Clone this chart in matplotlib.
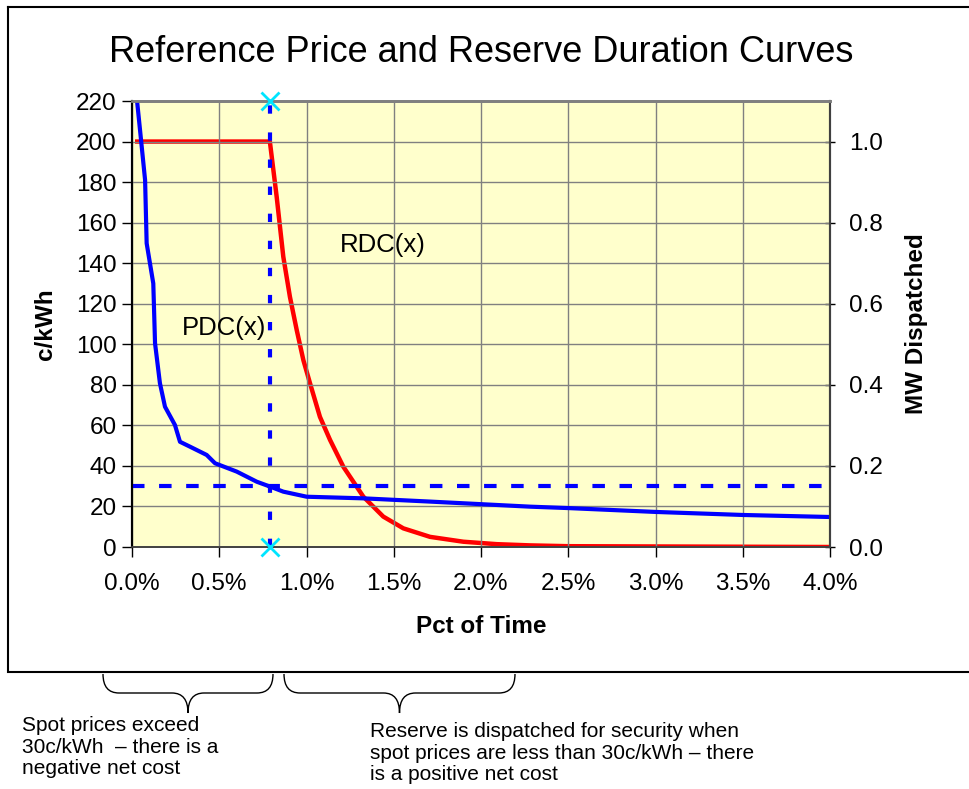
import numpy as np
import matplotlib.pyplot as plt
from matplotlib.path import Path
from matplotlib.patches import PathPatch
from matplotlib.ticker import FuncFormatter, MultipleLocator

plt.rcParams['font.family'] = ['Liberation Sans', 'DejaVu Sans']

# Price duration curve (left axis, c/kWh)
pdc_x = [0.029, 0.046, 0.075, 0.084, 0.122, 0.132, 0.160, 0.189, 0.246,
         0.275, 0.332, 0.428, 0.476, 0.600, 0.715, 0.791, 0.867, 1.001,
         1.326, 1.708, 2.28, 2.5, 3.0, 3.5, 4.0]
pdc_y = [220, 205.7, 181, 149.8, 130, 100.5, 80.8, 69.2, 60.2,
         51.9, 49.5, 45.4, 41.3, 37.2, 32.2, 29.8, 27.3, 24.8,
         24.0, 22.4, 19.9, 19.2, 17.3, 15.8, 14.8]

# Reserve duration curve (right axis, MW dispatched)
rdc_x = [0.03, 0.79, 0.829, 0.867, 0.905, 0.944, 0.982, 1.020, 1.077, 1.135,
         1.211, 1.326, 1.440, 1.555, 1.708, 1.899, 2.09, 2.28, 2.5, 4.0]
rdc_y = [1.0, 1.0, 0.864, 0.716, 0.617, 0.535, 0.461, 0.404, 0.321, 0.264,
         0.198, 0.124, 0.075, 0.046, 0.025, 0.013, 0.007, 0.004, 0.002, 0.0]

strike_price = 30     # c/kWh
strike_pct = 0.79     # pct of time where price = strike

fig = plt.figure(figsize=(9.69, 7.89), dpi=100)

# overlay in pixel coords for frame, braces and notes
ov = fig.add_axes([0, 0, 1, 1])
ov.set_xlim(0, 969)
ov.set_ylim(789, 0)
ov.axis('off')
ov.plot([8, 975, 975, 8, 8], [7, 7, 672, 672, 7], color='black', lw=1.5,
        solid_joinstyle='miter')


def brace(x0, x1, ytop=674, ymid=693, ytip=713, r=16):
    xm = (x0 + x1) / 2
    verts = [(x0, ytop), (x0, ymid), (x0 + r, ymid),
             (xm - r, ymid), (xm, ymid), (xm, ytip),
             (xm, ymid), (xm + r, ymid),
             (x1 - r, ymid), (x1, ymid), (x1, ytop)]
    codes = [Path.MOVETO, Path.CURVE3, Path.CURVE3,
             Path.LINETO, Path.CURVE3, Path.CURVE3,
             Path.CURVE3, Path.CURVE3,
             Path.LINETO, Path.CURVE3, Path.CURVE3]
    ov.add_patch(PathPatch(Path(verts, codes), fill=False, lw=1.0, color='black'))


brace(103, 273)
brace(284, 515)
ov.text(22, 716, 'Spot prices exceed\n30c/kWh  \u2013 there is a\nnegative net cost',
        fontsize=15, va='top', ha='left', linespacing=1.18)
ov.text(370, 722, 'Reserve is dispatched for security when\n'
        'spot prices are less than 30c/kWh \u2013 there\nis a positive net cost',
        fontsize=15, va='top', ha='left', linespacing=1.18)

ax1 = fig.add_axes([132/969, 1 - 547/789, 698/969, 446/789])
ax2 = ax1.twinx()
ax1.set_zorder(ax2.get_zorder() + 1)
ax1.patch.set_visible(False)
ax2.patch.set_visible(True)
ax2.patch.set_facecolor('#FFFFCC')

ax1.set_xlim(0, 4)
ax1.set_ylim(0, 220)
ax2.set_ylim(0, 1.1)

ax1.xaxis.set_major_locator(MultipleLocator(0.5))
ax1.yaxis.set_major_locator(MultipleLocator(20))
ax2.yaxis.set_major_locator(MultipleLocator(0.2))
ax1.xaxis.set_major_formatter(FuncFormatter(lambda v, p: '%.1f%%' % v))
ax2.yaxis.set_major_formatter(FuncFormatter(lambda v, p: '%.1f' % v))
ax1.grid(True, color='#808080', lw=1)

ax2.plot(rdc_x, rdc_y, color='#FF0000', lw=3.2, solid_joinstyle='round')
ax1.plot(pdc_x, pdc_y, color='#0000FF', lw=3, solid_joinstyle='round')
ax1.axhline(strike_price, color='#0000FF', lw=3, dashes=(3, 3.5))
ax1.axvline(strike_pct, color='#0000FF', lw=3, dashes=(2, 4.5))
ax1.plot([strike_pct, strike_pct], [0, 220], ls='none', marker='x',
         color='#00E5FF', ms=13, mew=2, clip_on=False, zorder=5)

ax1.text(0.53, 108, 'PDC(x)', fontsize=18.5, ha='center', va='center')
ax1.text(1.44, 149, 'RDC(x)', fontsize=18.5, ha='center', va='center')

ax1.set_title('Reference Price and Reserve Duration Curves', fontsize=26, pad=28)
ax1.set_xlabel('Pct of Time', fontsize=17.5, fontweight='bold', labelpad=14)
ax1.set_ylabel('c/kWh', fontsize=17.5, fontweight='bold', labelpad=14)
ax2.set_ylabel('MW Dispatched', fontsize=17.5, fontweight='bold', labelpad=16)

ax1.tick_params(axis='both', labelsize=17.5, length=7, width=1, color='black')
ax1.tick_params(axis='x', pad=12)
ax1.tick_params(axis='y', pad=4)
ax2.tick_params(axis='y', labelsize=17.5, length=7, width=1, direction='inout', pad=10)

for ax in (ax1, ax2):
    ax.spines['top'].set_color('#808080')
    ax.spines['top'].set_linewidth(2)
    ax.spines['left'].set_color('black')
    ax.spines['left'].set_linewidth(1.5)
    ax.spines['right'].set_color('#404040')
    ax.spines['right'].set_linewidth(1.5)
    ax.spines['bottom'].set_color('#404040')
    ax.spines['bottom'].set_linewidth(1.2)

fig.savefig('out.png', dpi=100)
